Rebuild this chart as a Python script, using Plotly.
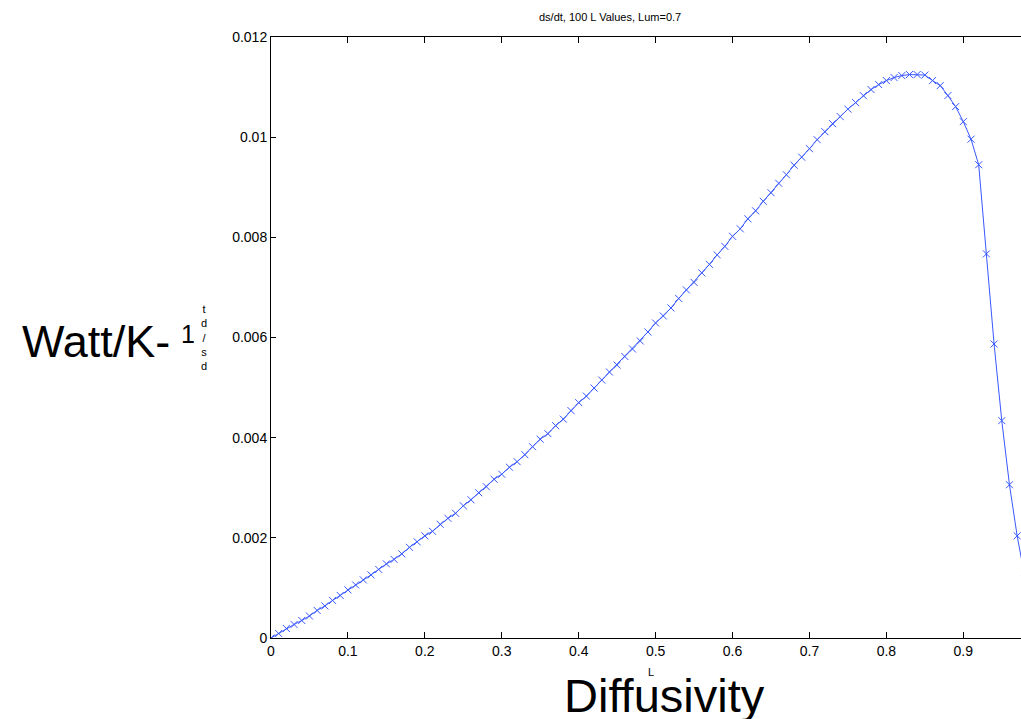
import plotly.graph_objects as go

# Data
L_values = [i / 100 for i in range(100)]
dsdt_values = [
    0.0, 0.00009, 0.00019, 0.00027, 0.00035, 0.00044, 0.00055, 0.00064, 0.00075, 0.00085,
    0.00096, 0.00106, 0.00116, 0.00126, 0.00137, 0.00148, 0.00157, 0.00168, 0.00181, 0.00192,
    0.00204, 0.00213, 0.00227, 0.00239, 0.00249, 0.00264, 0.00276, 0.00290, 0.00302, 0.00317,
    0.00327, 0.00341, 0.00352, 0.00366, 0.00382, 0.00397, 0.00408, 0.00424, 0.00437, 0.00454,
    0.00470, 0.00483, 0.00499, 0.00515, 0.00531, 0.00545, 0.00562, 0.00577, 0.00593, 0.00611,
    0.00629, 0.00643, 0.00659, 0.00678, 0.00695, 0.00710, 0.00729, 0.00746, 0.00765, 0.00782,
    0.00802, 0.00817, 0.00837, 0.00853, 0.00872, 0.00889, 0.00908, 0.00925, 0.00944, 0.00960,
    0.00977, 0.00995, 0.01011, 0.01027, 0.01041, 0.01056, 0.01069, 0.01083, 0.01095, 0.01105,
    0.01113, 0.01119, 0.01123, 0.01125, 0.01125, 0.01124, 0.01113, 0.01103, 0.01083, 0.01061,
    0.01031, 0.00996, 0.00945, 0.00767, 0.00587, 0.00434, 0.00306, 0.00204, 0.00117, 0.00040,
]
x_tick_vals = [0, 0.1, 0.2, 0.3, 0.4, 0.5, 0.6, 0.7, 0.8, 0.9, 1.0]
x_tick_text = ["0", "0.1", "0.2", "0.3", "0.4", "0.5", "0.6", "0.7", "0.8", "0.9", "1"]
y_tick_vals = [0, 0.002, 0.004, 0.006, 0.008, 0.010, 0.012]
y_tick_text = ["0", "0.002", "0.004", "0.006", "0.008", "0.01", "0.012"]

W, H = 1021, 719
SCR_LEFT, SCR_TOP, SCR_BOTTOM = 271, 37, 638
L_M, T_M, R_M = SCR_LEFT, SCR_TOP, 0
B_M = H - SCR_BOTTOM
PW, PH = W - L_M - R_M, SCR_BOTTOM - SCR_TOP
FONT = "Liberation Sans, Arial, Helvetica, sans-serif"
BLUE = "rgb(56, 88, 255)"


def px(sx):
    return (sx - SCR_LEFT) / PW


def py(sy):
    return (SCR_BOTTOM - sy) / PH


fig = go.Figure()
fig.add_trace(go.Scatter(
    x=L_values, y=dsdt_values, mode="lines+markers",
    line=dict(color=BLUE, width=1),
    marker=dict(symbol="x-thin", size=7, line=dict(color=BLUE, width=1)),
    showlegend=False, cliponaxis=True,
))

fig.update_layout(
    width=W, height=H,
    margin=dict(l=L_M, r=R_M, t=T_M, b=B_M),
    paper_bgcolor="white", plot_bgcolor="white",
    font=dict(family=FONT, color="black"),
    xaxis=dict(
        range=[0, 0.975], tickvals=x_tick_vals, ticktext=x_tick_text,
        ticks="inside", ticklen=6, tickcolor="black", tickwidth=1,
        showline=True, linecolor="black", linewidth=1, mirror="ticks",
        showgrid=False, zeroline=False, tickfont=dict(size=14, family=FONT),
    ),
    yaxis=dict(
        range=[0, 0.012], tickvals=y_tick_vals, ticktext=y_tick_text,
        ticks="inside", ticklen=5, tickcolor="black", tickwidth=1,
        showline=True, linecolor="black", linewidth=1, mirror=False,
        showgrid=False, zeroline=False, tickfont=dict(size=14, family=FONT),
    ),
)

ann = [
    dict(text="ds/dt, 100 L Values, Lum=0.7", x=px(610), y=py(17), size=11, xa="center"),
    dict(text="Watt/K-", x=px(20), y=py(341), size=45, xa="left"),
    dict(text="1", x=px(179), y=py(334), size=25, xa="left"),
    dict(text="t<br>d<br>/<br>s<br>d", x=px(204), y=py(337), size=11, xa="center"),
    dict(text="L", x=px(651), y=py(672), size=11, xa="center"),
    dict(text="Diffusivity", x=px(664), y=py(695), size=47, xa="center"),
]
for a in ann:
    fig.add_annotation(
        text=a["text"], x=a["x"], y=a["y"], xref="paper", yref="paper",
        xanchor=a["xa"], yanchor="middle", showarrow=False,
        font=dict(size=a["size"], family=FONT, color="black"),
    )

fig.write_html(
    "out.html",
    config={"displayModeBar": False},
    post_script="document.body.style.margin='0';document.body.style.overflow='hidden';",
)
